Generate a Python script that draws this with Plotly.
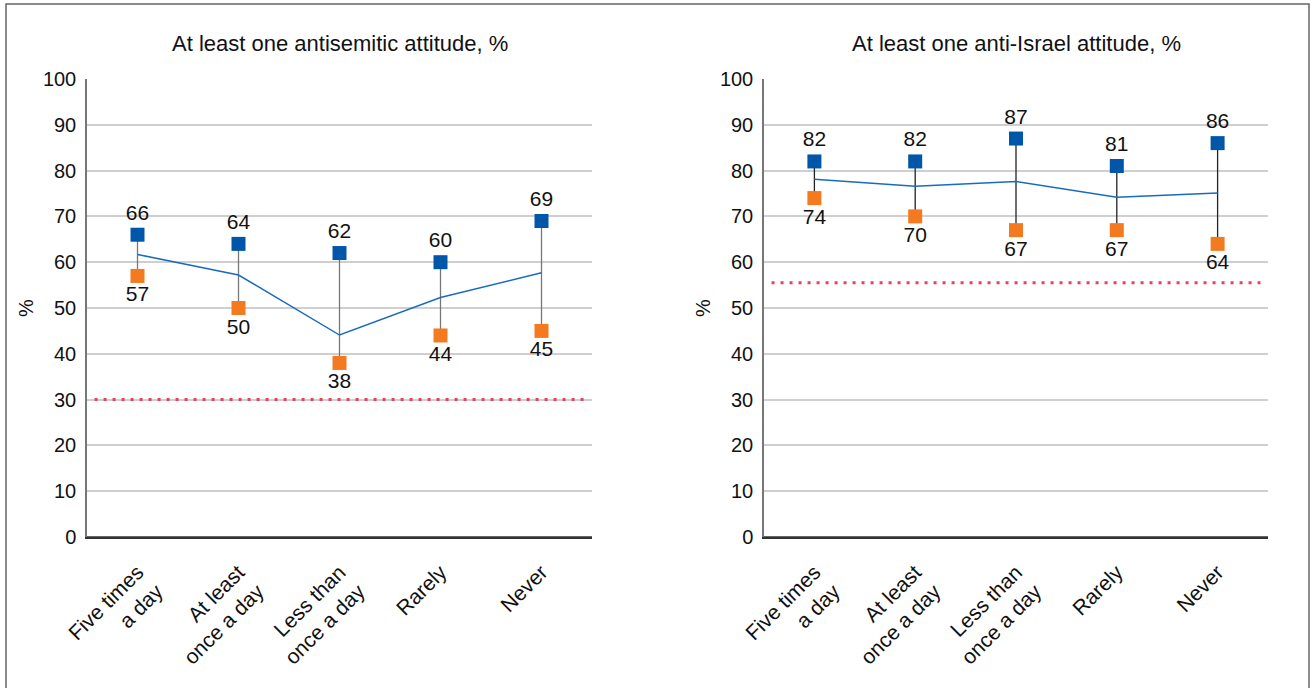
import plotly.graph_objects as go

categories = ["Five times<br>a day", "At least<br>once a day", "Less than<br>once a day", "Rarely", "Never"]

# Left panel: at least one antisemitic attitude
anti_high = [66, 64, 62, 60, 69]
anti_low = [57, 50, 38, 44, 45]
anti_mean = [61.7, 57.2, 44.1, 52.3, 57.7]
anti_ref = 30

# Right panel: at least one anti-Israel attitude
isr_high = [82, 82, 87, 81, 86]
isr_low = [74, 70, 67, 67, 64]
isr_mean = [78.1, 76.6, 77.6, 74.2, 75.1]
isr_ref = 55.5

titles = ["At least one antisemitic attitude, %", "At least one anti-Israel attitude, %"]
y_ticks = [0, 10, 20, 30, 40, 50, 60, 70, 80, 90, 100]

BLUE = "#0056A8"
ORANGE = "#F47A20"
LINE_BLUE = "#1A6BBE"
RED = "#E8405E"
FONT = "Liberation Sans, Arial, sans-serif"

W, H = 1314, 688
fig = go.Figure()

panels = [
    (anti_high, anti_low, anti_mean, anti_ref, "x", "y", "#777777"),
    (isr_high, isr_low, isr_mean, isr_ref, "x2", "y2", "#222222"),
]

for hi, lo, mean, ref, xa, ya, conn in panels:
    cx, cy = [], []
    for c, h, l in zip(categories, hi, lo):
        cx += [c, c, None]
        cy += [l, h, None]
    fig.add_trace(go.Scatter(x=cx, y=cy, mode="lines", line=dict(color=conn, width=1.3),
                             xaxis=xa, yaxis=ya, hoverinfo="skip", showlegend=False))
    fig.add_trace(go.Scatter(x=categories, y=mean, mode="lines", line=dict(color=LINE_BLUE, width=1.5),
                             xaxis=xa, yaxis=ya, showlegend=False))
    fig.add_trace(go.Scatter(x=categories, y=hi, mode="markers+text", text=[str(v) for v in hi],
                             textposition="top center", textfont=dict(size=21, color="#111111", family=FONT),
                             marker=dict(symbol="square", size=14, color=BLUE),
                             xaxis=xa, yaxis=ya, showlegend=False))
    fig.add_trace(go.Scatter(x=categories, y=lo, mode="markers+text", text=[str(v) for v in lo],
                             textposition="bottom center", textfont=dict(size=21, color="#111111", family=FONT),
                             marker=dict(symbol="square", size=14, color=ORANGE),
                             xaxis=xa, yaxis=ya, showlegend=False))
    fig.add_shape(type="line", xref=f"{xa} domain", yref=ya, x0=0.015, x1=0.985, y0=ref, y1=ref,
                  line=dict(color=RED, width=3, dash="3px,6px"))

ydom = [(688 - 537) / H, (688 - 79) / H]
axis_common = dict(showgrid=False, showline=True, linecolor="#333333", linewidth=1.5,
                   ticks="", tickangle=-45, tickfont=dict(size=21, family=FONT, color="#111111"),
                   range=[-0.5, 4.5], fixedrange=True, automargin=False, ticklabelstandoff=13)
yaxis_common = dict(range=[0, 100], tickvals=y_ticks, showgrid=True, gridcolor="#CFCFCF", gridwidth=1.5,
                    showline=True, linecolor="#777777", linewidth=1.5, zeroline=False, ticks="",
                    automargin=False, ticklabelstandoff=5, fixedrange=True,
                    tickfont=dict(size=20, family=FONT, color="#111111"),
                    title=dict(text="%", font=dict(size=20, family=FONT, color="#111111"), standoff=4))

fig.update_layout(
    width=W, height=H,
    margin=dict(l=0, r=0, t=0, b=0),
    paper_bgcolor="white", plot_bgcolor="white",
    font=dict(family=FONT),
    xaxis=dict(domain=[87 / W, 592 / W], anchor="y", **axis_common),
    xaxis2=dict(domain=[764 / W, 1268 / W], anchor="y2", **axis_common),
    yaxis=dict(domain=ydom, anchor="x", **yaxis_common),
    yaxis2=dict(domain=ydom, anchor="x2", **yaxis_common),
    annotations=[
        dict(text=titles[0], x=(87 + 592) / 2 / W, y=(688 - 43) / H, xref="paper", yref="paper",
             xanchor="center", yanchor="middle", showarrow=False,
             font=dict(size=22, family=FONT, color="#111111")),
        dict(text=titles[1], x=(764 + 1268) / 2 / W, y=(688 - 43) / H, xref="paper", yref="paper",
             xanchor="center", yanchor="middle", showarrow=False,
             font=dict(size=22, family=FONT, color="#111111")),
    ],
)

# bottom axis line (dark)
for xa, ya in [("x", "y"), ("x2", "y2")]:
    fig.add_shape(type="line", xref=f"{xa} domain", yref=ya, x0=0, x1=1, y0=0, y1=0,
                  line=dict(color="#333333", width=1.5))

# outer frame
fig.add_shape(type="rect", xref="paper", yref="paper", x0=6 / W, x1=1309 / W, y0=-0.02, y1=(688 - 4) / H,
              line=dict(color="#666666", width=1.5))

fig.write_html("out.html", config={"displayModeBar": False},
               post_script="document.body.style.margin='0px';")
